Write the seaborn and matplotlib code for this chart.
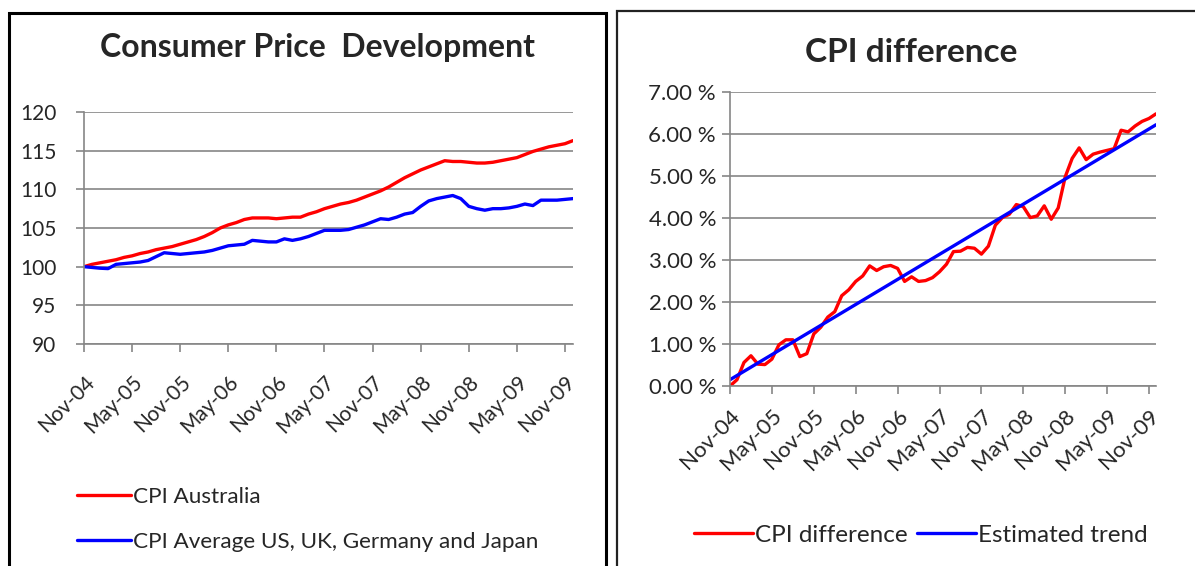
import numpy as np
import pandas as pd
import matplotlib
matplotlib.use('Agg')
import matplotlib.pyplot as plt
import seaborn as sns
from matplotlib.patches import Rectangle
from matplotlib.ticker import FuncFormatter

# Monthly data, Nov-04 .. Dec-09 (62 months)
cpi_australia = [100.0, 100.3, 100.5, 100.7, 100.9, 101.2, 101.4, 101.7, 101.9, 102.2,
                 102.4, 102.6, 102.9, 103.2, 103.5, 103.9, 104.4, 105.0, 105.4, 105.7,
                 106.1, 106.3, 106.3, 106.3, 106.2, 106.3, 106.4, 106.4, 106.8, 107.1,
                 107.5, 107.8, 108.1, 108.3, 108.6, 109.0, 109.4, 109.8, 110.3, 110.9,
                 111.5, 112.0, 112.5, 112.9, 113.3, 113.7, 113.6, 113.6, 113.5, 113.4,
                 113.4, 113.5, 113.7, 113.9, 114.1, 114.5, 114.9, 115.2, 115.5, 115.7,
                 115.9, 116.3]
cpi_others = [100.0, 99.9, 99.8, 99.75, 100.3, 100.4, 100.5, 100.6, 100.8, 101.3,
              101.8, 101.7, 101.6, 101.7, 101.8, 101.9, 102.1, 102.4, 102.7, 102.8,
              102.9, 103.4, 103.3, 103.2, 103.2, 103.6, 103.4, 103.6, 103.9, 104.3,
              104.7, 104.7, 104.7, 104.8, 105.1, 105.4, 105.8, 106.2, 106.1, 106.4,
              106.8, 107.0, 107.8, 108.5, 108.8, 109.0, 109.2, 108.8, 107.8, 107.5,
              107.3, 107.5, 107.5, 107.6, 107.8, 108.1, 107.9, 108.6, 108.6, 108.6,
              108.7, 108.8]
cpi_difference = [0.00, 0.15, 0.56, 0.72, 0.52, 0.51, 0.64, 0.98, 1.10, 1.10,
                  0.70, 0.77, 1.24, 1.40, 1.64, 1.77, 2.15, 2.29, 2.49, 2.62,
                  2.86, 2.75, 2.84, 2.87, 2.80, 2.49, 2.60, 2.49, 2.51, 2.58,
                  2.72, 2.90, 3.20, 3.21, 3.30, 3.28, 3.14, 3.33, 3.83, 4.01,
                  4.09, 4.32, 4.27, 4.01, 4.05, 4.29, 3.97, 4.24, 4.98, 5.42,
                  5.67, 5.39, 5.52, 5.57, 5.61, 5.65, 6.09, 6.05, 6.19, 6.30,
                  6.37, 6.48]
trend_months = [0, 61]
trend_values = [0.15, 6.22]
tick_labels = ['Nov-04', 'May-05', 'Nov-05', 'May-06', 'Nov-06', 'May-07',
               'Nov-07', 'May-08', 'Nov-08', 'May-09', 'Nov-09']

months = np.arange(len(cpi_australia))
df_cpi = pd.DataFrame({'month': months, 'CPI Australia': cpi_australia,
                       'CPI Average US, UK, Germany and Japan': cpi_others})
df_diff = pd.DataFrame({'month': months, 'CPI difference': cpi_difference})
df_trend = pd.DataFrame({'month': trend_months, 'Estimated trend': trend_values})

sns.set_style('white')
plt.rcParams['font.family'] = ['Lato', 'DejaVu Sans']

W, H = 1195, 566
fig = plt.figure(figsize=(W / 100, H / 100), dpi=100)


def px_axes(x0, y0, x1, y1):
    return fig.add_axes([x0 / W, 1 - y1 / H, (x1 - x0) / W, (y1 - y0) / H])


grid_col = '#868686'


def style_axes(ax, yticks, fmt, fs):
    ax.set_xlim(0, 61)
    ax.set_xticks(np.arange(0, 61, 6))
    ax.set_xticklabels(tick_labels, rotation=45, ha='right', rotation_mode='anchor', fontsize=fs)
    ax.set_yticks(yticks)
    ax.yaxis.set_major_formatter(FuncFormatter(fmt))
    ax.set_ylim(yticks[0], yticks[-1])
    ax.grid(axis='y', color=grid_col, lw=1.2)
    ax.set_axisbelow(True)
    for s in ['top', 'right']:
        ax.spines[s].set_visible(False)
    for s in ['left', 'bottom']:
        ax.spines[s].set_color(grid_col)
        ax.spines[s].set_linewidth(1.2)
    ax.tick_params(axis='both', which='major', direction='out', length=6, width=1.2,
                   color=grid_col, labelsize=fs, pad=4, left=True, bottom=True)
    ax.set_xlabel('')
    ax.set_ylabel('')


# Left chart
ax1 = px_axes(84, 112, 573, 344)
sns.lineplot(data=df_cpi, x='month', y='CPI Australia', color='#ff0000', lw=2.4, ax=ax1,
             label='CPI Australia')
sns.lineplot(data=df_cpi, x='month', y='CPI Average US, UK, Germany and Japan', color='#0000ff',
             lw=2.4, ax=ax1, label='CPI Average US, UK, Germany and Japan')
style_axes(ax1, np.arange(90, 121, 5), lambda v, p: f'{v:.0f}', 15)
ax1.tick_params(axis='x', pad=14)
ax1.tick_params(axis='y', pad=14)
ax1.legend(loc='upper left', bbox_to_anchor=(68 / W, 1 - 478 / H), bbox_transform=fig.transFigure,
           frameon=False, fontsize=16.2, handlelength=2.4, handletextpad=0.1, labelspacing=1.1,
           borderaxespad=0)
fig.text(318 / W, 1 - 48 / H, 'Consumer Price  Development', ha='center', va='center',
         fontsize=23, fontweight='bold')

# Right chart
ax2 = px_axes(730, 92, 1156, 386)
sns.lineplot(data=df_diff, x='month', y='CPI difference', color='#ff0000', lw=2.4, ax=ax2,
             label='CPI difference')
sns.lineplot(data=df_trend, x='month', y='Estimated trend', color='#0000ff', lw=2.4, ax=ax2,
             label='Estimated trend')
style_axes(ax2, np.arange(0, 7.01, 1.0), lambda v, p: f'{v:.2f} %', 16)
ax2.tick_params(axis='x', pad=8)
ax2.legend(loc='center', bbox_to_anchor=(921 / W, 1 - 535 / H), bbox_transform=fig.transFigure,
           frameon=False, fontsize=17.5, ncol=2, handlelength=2.4, handletextpad=0.1,
           columnspacing=0.4, borderaxespad=0)
fig.text(911 / W, 1 - 53 / H, 'CPI difference', ha='center', va='center',
         fontsize=24, fontweight='bold')

# Chart frames
fig.patches.append(Rectangle((9 / W, -0.1), 597 / W, 1.1 - 13 / H, transform=fig.transFigure,
                             fill=False, edgecolor='black', lw=2.2))
fig.patches.append(Rectangle((617 / W, -0.1), 600 / W, 1.1 - 11 / H, transform=fig.transFigure,
                             fill=False, edgecolor='#222222', lw=1.6))

fig.savefig('out.png', dpi=100)
